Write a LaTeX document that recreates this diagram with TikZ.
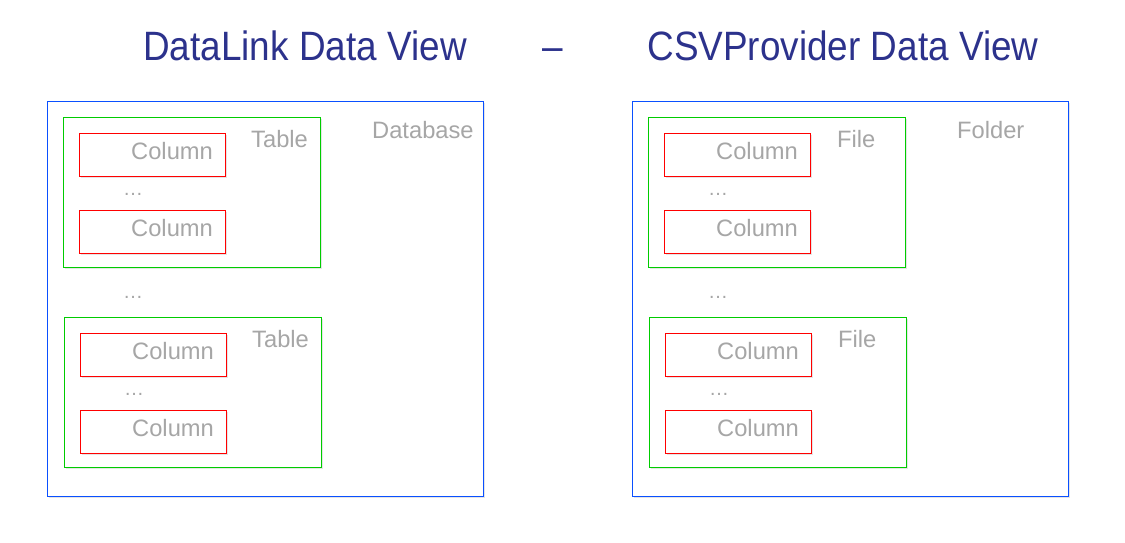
\documentclass[tikz,border=0pt]{standalone}
\usepackage{fontspec}
\setmainfont{Liberation Sans}
\usetikzlibrary{shadows}
\definecolor{titleblue}{RGB}{44,50,140}
\definecolor{lgray}{RGB}{166,166,166}
\definecolor{boxblue}{RGB}{10,80,255}
\definecolor{boxgreen}{RGB}{0,204,0}
\definecolor{boxred}{RGB}{255,0,0}
\tikzset{
  shad/.style={drop shadow={shadow xshift=1.2pt, shadow yshift=-1.8pt, opacity=0.10, fill=black}},
  outerbox/.style={draw=boxblue, line width=1.1pt, fill=white, shad, inner sep=0pt, anchor=north west},
  tabbox/.style={draw=boxgreen, line width=1.1pt, fill=white, shad, inner sep=0pt, anchor=north west, minimum width=257pt, minimum height=150pt},
  colbox/.style={draw=boxred, line width=1.1pt, fill=white, shad, inner sep=0pt, anchor=north west, minimum width=146pt, minimum height=43pt},
  lbl/.style={text=lgray, font=\fontsize{23.7}{24}\selectfont, inner sep=0pt, anchor=base west},
  dots/.style={text=lgray, font=\fontsize{20}{20}\selectfont, inner sep=0pt, anchor=base},
  ttl/.style={text=titleblue, font=\fontsize{41}{41}\selectfont, inner sep=0pt, anchor=base},
}
\begin{document}
\begin{tikzpicture}[x=1pt,y=-1pt]
\useasboundingbox (0,0) rectangle (1125,543);
% titles
\node[ttl] (t1) at (305,60) {\scalebox{0.9}[1]{DataLink Data View}};
\node[ttl] (t2) at (553,60) {\scalebox{0.9}[1]{--}};
\node[ttl] (t3) at (843,60) {\scalebox{0.9}[1]{CSVProvider Data View}};
% ---------- left side ----------
\node[outerbox, minimum width=436pt, minimum height=395pt] (db) at (47,101) {};
\node[lbl] (dbl) at (372,138) {Database};
\node[tabbox] (tab1) at (63,117) {};
\node[lbl] (tab1l) at (251,147) {Table};
\node[colbox] (c11) at (79,133) {};
\node[lbl] (c11l) at (131,159) {Column};
\node[dots] (d11) at (133,195) {…};
\node[colbox] (c12) at (79,210) {};
\node[lbl] (c12l) at (131,236) {Column};
\node[dots] (dmid1) at (133,298) {…};
\node[tabbox] (tab2) at (64,317) {};
\node[lbl] (tab2l) at (252,347) {Table};
\node[colbox] (c21) at (80,333) {};
\node[lbl] (c21l) at (132,359) {Column};
\node[dots] (d21) at (134,395) {…};
\node[colbox] (c22) at (80,410) {};
\node[lbl] (c22l) at (132,436) {Column};
% ---------- right side ----------
\node[outerbox, minimum width=436pt, minimum height=395pt] (fo) at (632,101) {};
\node[lbl] (fol) at (957,138) {Folder};
\node[tabbox] (f1) at (648,117) {};
\node[lbl] (f1l) at (837,147) {File};
\node[colbox] (e11) at (664,133) {};
\node[lbl] (e11l) at (716,159) {Column};
\node[dots] (g11) at (718,195) {…};
\node[colbox] (e12) at (664,210) {};
\node[lbl] (e12l) at (716,236) {Column};
\node[dots] (dmid2) at (718,298) {…};
\node[tabbox] (f2) at (649,317) {};
\node[lbl] (f2l) at (838,347) {File};
\node[colbox] (e21) at (665,333) {};
\node[lbl] (e21l) at (717,359) {Column};
\node[dots] (g21) at (719,395) {…};
\node[colbox] (e22) at (665,410) {};
\node[lbl] (e22l) at (717,436) {Column};
\end{tikzpicture}
\end{document}
